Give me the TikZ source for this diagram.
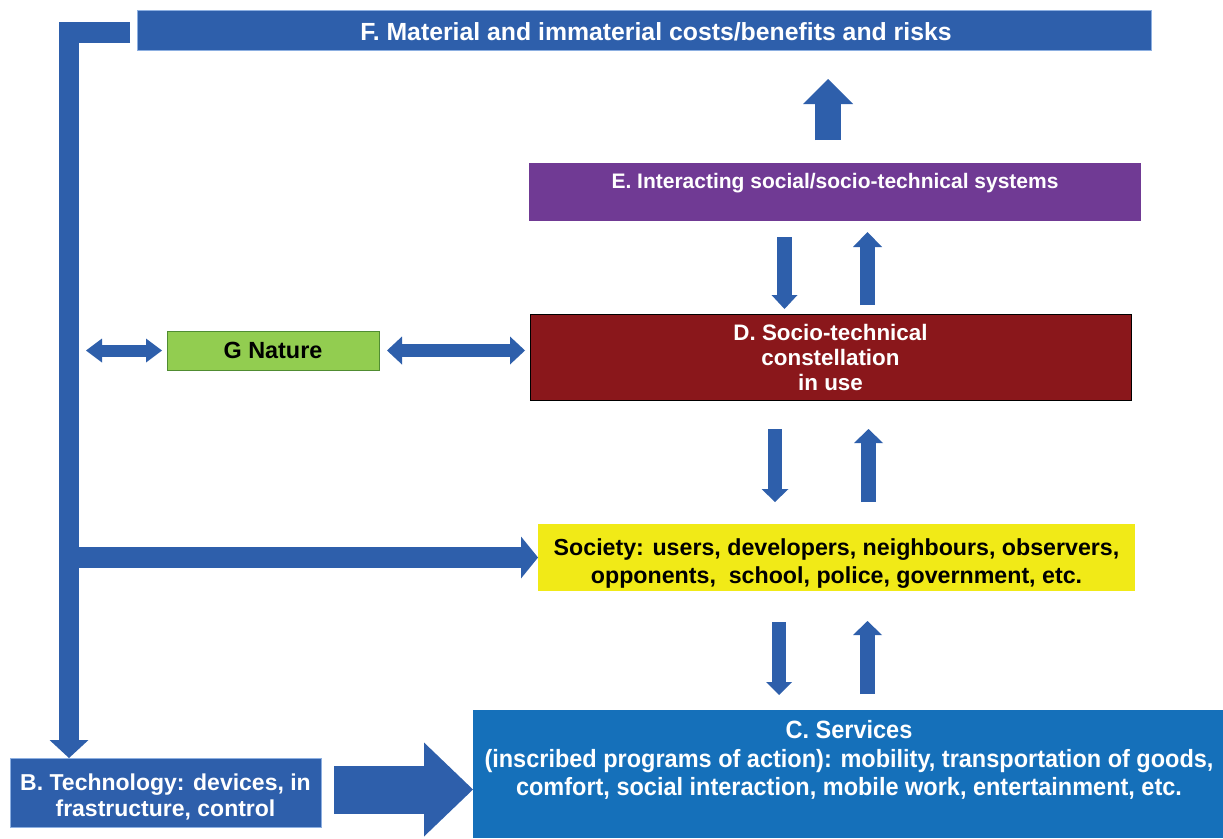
\documentclass[tikz,border=0pt]{standalone}
\usepackage{fontspec}
\setmainfont{Liberation Sans}
\newfontfamily\narrowf{Liberation Sans}[FakeStretch=0.94]
\usetikzlibrary{arrows.meta,calc}
\definecolor{ablue}{RGB}{46,95,171}
\definecolor{ablight}{RGB}{140,175,225}
\definecolor{cblue}{RGB}{21,112,186}
\definecolor{syellow}{RGB}{241,234,23}
\definecolor{epurple}{RGB}{112,58,148}
\definecolor{dred}{RGB}{138,23,27}
\definecolor{ngreen}{RGB}{146,205,80}
\definecolor{ngreendark}{RGB}{80,140,50}
\newcommand{\fsz}[2]{\fontsize{#1}{#2}\selectfont}
\begin{document}
\begin{tikzpicture}[x=1pt,y=-1pt,
  box/.style={inner sep=0pt, outer sep=0pt, anchor=north west, align=center},
  barrow/.style n args={3}{draw=ablue, line width=#1, -{Triangle[length=#3,width=#2,line width=0pt]}},
  dbarrow/.style n args={3}{draw=ablue, line width=#1, {Triangle[length=#3,width=#2,line width=0pt]}-{Triangle[length=#3,width=#2,line width=0pt]}}
]
\useasboundingbox (0,0) rectangle (1223,838);
\fill[white] (0,0) rectangle (1223,838);

% boxes
\node[box, fill=ablue, draw=ablight, line width=0.6pt, minimum width=1014pt, minimum height=40pt, text=white, font=\bfseries\fsz{24.8}{28}] (F) at (137,10) {\rule{0pt}{21pt}\hspace*{24pt}F. Material and immaterial costs/benefits and risks};
\node[box, fill=epurple, minimum width=612pt, minimum height=58pt, text=white, font=\bfseries\fsz{21}{25}, text height=16pt, text depth=24pt] (E) at (529,163) {E. Interacting social/socio-technical systems};
\node[box, fill=dred, draw=black, line width=1pt, minimum width=601pt, minimum height=86pt, text=white, font=\bfseries\fsz{22.4}{25}] (D) at (530,314) {D. Socio-technical\\constellation\\in use};
\node[box, fill=syellow, minimum width=597pt, minimum height=67pt, font=\bfseries\fsz{23.2}{28}] (Soc) at (538,524) {\rule{0pt}{29pt}Society: users, developers, neighbours, observers,\\opponents,\ \ school, police, government, etc.};
\node[box, fill=ngreen, draw=ngreendark, line width=1pt, minimum width=212pt, minimum height=39pt, font=\bfseries\fsz{23.4}{26}] (G) at (167,331) {G Nature};
\node[box, fill=ablue, draw=ablight, line width=0.6pt, minimum width=311pt, minimum height=69pt, text=white, font=\bfseries\fsz{23}{26}] (B) at (10,758) {\rule{0pt}{25pt}B. Technology: devices, in\\frastructure, control};
\node[box, fill=cblue, minimum width=750pt, minimum height=128pt] (C) at (473,710) {};
\node[inner sep=0pt, align=center, text=white, font=\narrowf\bfseries\fsz{25}{28.5}] (Ct) at (849,760) {C. Services\\(inscribed programs of action): mobility, transportation of goods,\\comfort, social interaction, mobile work, entertainment, etc.};

% left feedback line from F
\coordinate (Ltop) at (130,32.5);
\coordinate (Lc) at (69,32.5);
\draw[barrow={20.5pt}{39pt}{18pt}, line join=miter] (Ltop) -- (Lc) -- (Lc |- B.north);
\draw[barrow={21pt}{42pt}{17pt}] (Lc |- Soc.west) -- (Soc.west);

% nature double arrows
\draw[dbarrow={12pt}{24pt}{16pt}] ($(Lc |- G.west)+(17,0)$) -- ($(G.west)+(-5,0)$);
\draw[dbarrow={13pt}{28pt}{15pt}] ($(G.east)+(8,0)$) -- ($(D.west |- G.east)+(-5,0)$);

% B to C
\coordinate (Bc) at ($(B.east)+(13,-3)$);
\draw[barrow={48pt}{94pt}{49pt}] (Bc) -- (Bc -| C.west);

% vertical arrows
\coordinate (xf) at (828,0);
\coordinate (xa) at (784.5,0);
\coordinate (xb) at (867.5,0);
\coordinate (xc) at (775,0);
\coordinate (xd) at (868.5,0);
\coordinate (xe) at (779,0);
\coordinate (xg) at (867.5,0);
\draw[barrow={26pt}{50pt}{25pt}] ($(xf |- E.north)+(0,-23)$) -- ($(xf |- F.south)+(0,29)$);
\draw[barrow={15pt}{26pt}{14pt}] ($(xa |- E.south)+(0,16)$) -- ($(xa |- D.north)+(0,-5)$);
\draw[barrow={15pt}{29pt}{15pt}] ($(xb |- D.north)+(0,-9)$) -- ($(xb |- E.south)+(0,11)$);
\draw[barrow={14pt}{27pt}{13pt}] ($(xc |- D.south)+(0,29)$) -- ($(xc |- Soc.north)+(0,-22)$);
\draw[barrow={15pt}{29pt}{14pt}] ($(xd |- Soc.north)+(0,-22)$) -- ($(xd |- D.south)+(0,29)$);
\draw[barrow={14pt}{26pt}{13pt}] ($(xe |- Soc.south)+(0,31)$) -- ($(xe |- C.north)+(0,-15)$);
\draw[barrow={15pt}{29pt}{14pt}] ($(xg |- C.north)+(0,-16)$) -- ($(xg |- Soc.south)+(0,30)$);
\end{tikzpicture}
\end{document}
